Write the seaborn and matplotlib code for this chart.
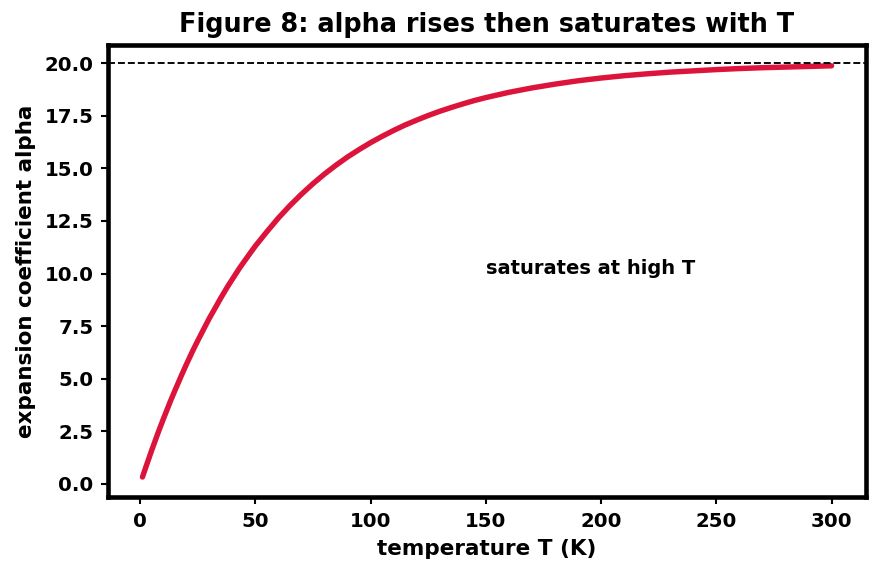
import pandas as pd
import matplotlib
matplotlib.use("Agg")
import matplotlib.pyplot as plt
import seaborn as sns

# values
temperature = [1, 3, 5, 8, 10, 13, 15, 18, 20, 23, 25, 28, 30, 33, 35, 38, 40, 43, 45,
               48, 50, 55, 60, 65, 70, 75, 80, 85, 90, 95, 100, 105, 110, 115, 120,
               125, 130, 135, 140, 145, 150, 160, 170, 180, 190, 200, 210, 220, 230,
               240, 250, 260, 270, 280, 290, 300]
alpha = [0.33, 0.97, 1.60, 2.50, 3.07, 3.90, 4.42, 5.18, 5.67, 6.37, 6.81, 7.45, 7.87,
         8.45, 8.84, 9.39, 9.73, 10.24, 10.55, 11.01, 11.31, 11.99, 12.64, 13.23,
         13.77, 14.27, 14.73, 15.15, 15.54, 15.89, 16.22, 16.52, 16.80, 17.06, 17.29,
         17.51, 17.71, 17.89, 18.06, 18.22, 18.36, 18.61, 18.82, 19.00, 19.16, 19.29,
         19.40, 19.49, 19.57, 19.63, 19.69, 19.74, 19.78, 19.81, 19.84, 19.87]
saturation = 20.0

df = pd.DataFrame({"T": temperature, "alpha": alpha})

sns.set_theme(style="white")
plt.rcParams["font.family"] = ["DejaVu Sans"]
plt.rcParams["font.weight"] = "bold"
plt.rcParams["text.color"] = "black"
plt.rcParams["axes.labelcolor"] = "black"
plt.rcParams["xtick.color"] = "black"
plt.rcParams["ytick.color"] = "black"

fig, ax = plt.subplots(figsize=(881 / 150, 573 / 150), dpi=150)
fig.subplots_adjust(left=0.1226, right=0.983, top=0.9215, bottom=0.1326)

sns.lineplot(data=df, x="T", y="alpha", ax=ax, color="#DC143C", linewidth=2.6)
ax.axhline(saturation, color="black", linestyle="--", linewidth=0.9)
ax.text(150, 10, "saturates at high T", fontsize=9.35, fontweight="bold", color="black")

ax.set_xlim(-13.95, 314.95)
ax.set_ylim(-0.62, 20.86)
ax.set_yticks([0, 2.5, 5, 7.5, 10, 12.5, 15, 17.5, 20])
ax.set_title("Figure 8: alpha rises then saturates with T", fontsize=12.25,
             fontweight="bold", color="black")
ax.set_xlabel("temperature T (K)", fontsize=10.3, fontweight="bold")
ax.set_ylabel("expansion coefficient alpha", fontsize=10.3, fontweight="bold")
ax.tick_params(axis="both", labelsize=9.5, length=3.5, width=1, direction="out",
               bottom=True, left=True, color="black", labelcolor="black")
for lab in ax.get_xticklabels() + ax.get_yticklabels():
    lab.set_fontweight("bold")
for sp in ax.spines.values():
    sp.set_linewidth(2.2)
    sp.set_color("black")

fig.savefig("out.png", dpi=150)
